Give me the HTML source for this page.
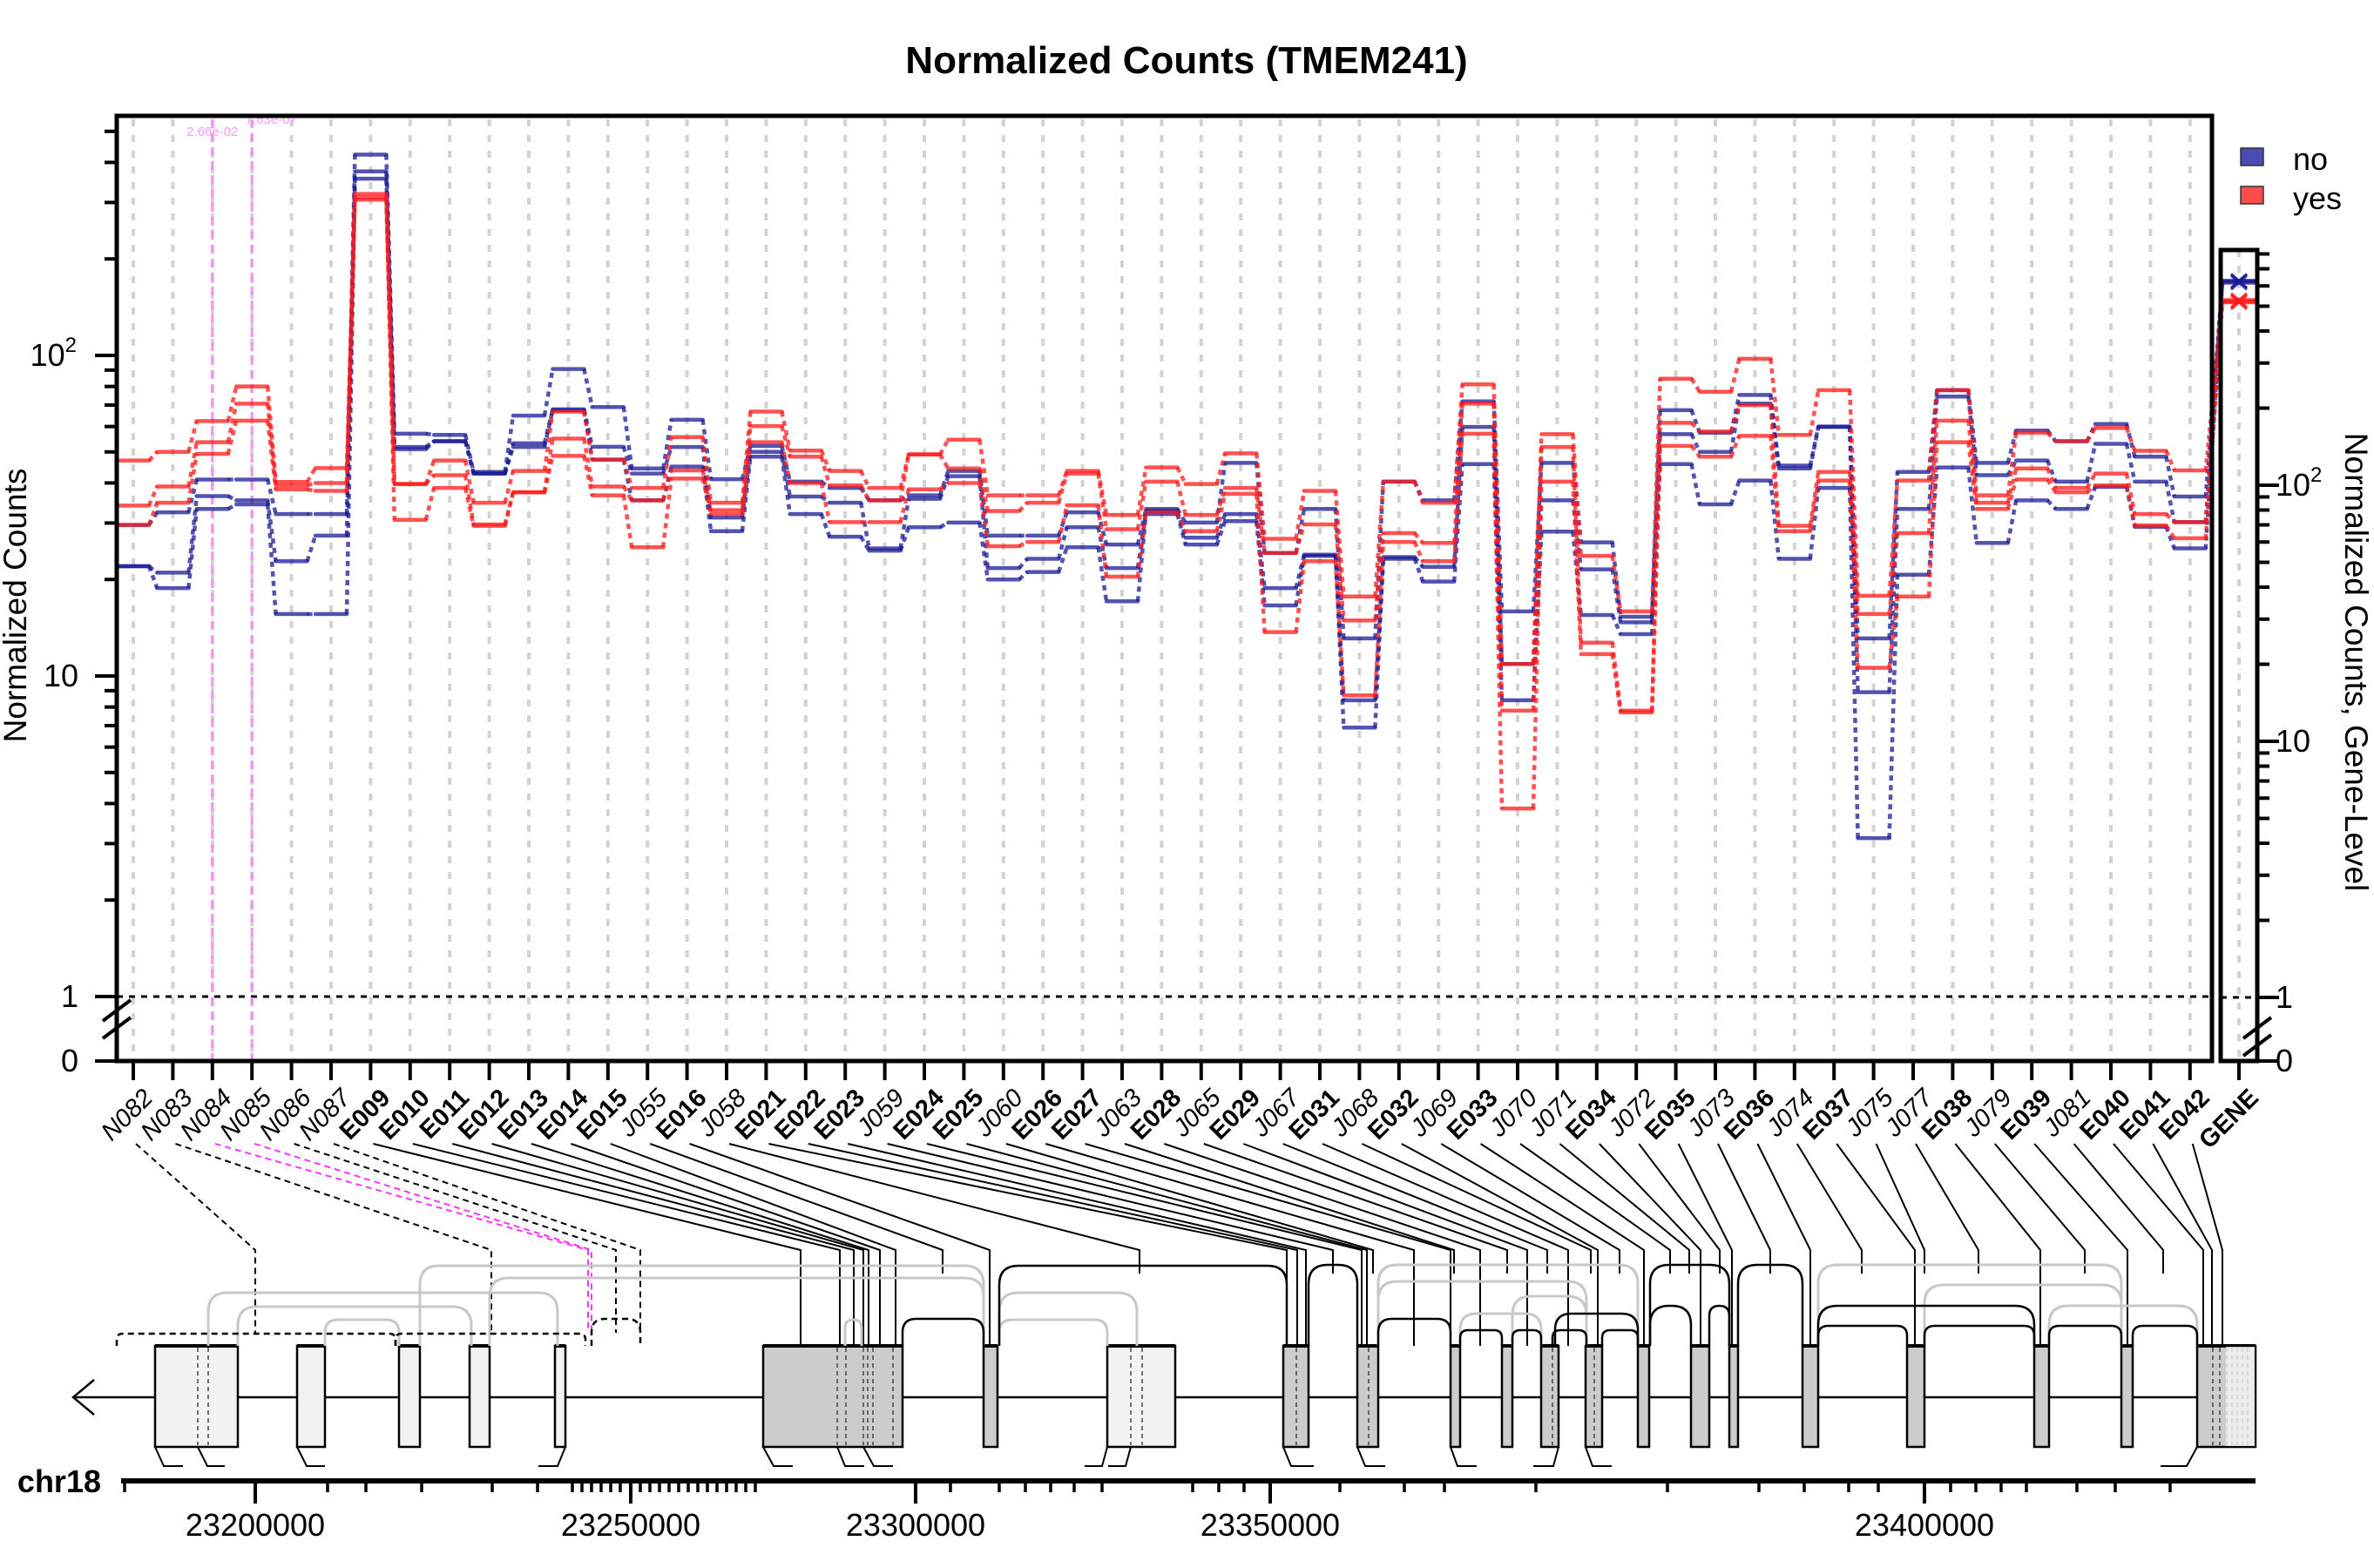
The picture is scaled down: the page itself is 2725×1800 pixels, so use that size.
<!DOCTYPE html>
<html><head><meta charset="utf-8"><style>
html,body{margin:0;padding:0;background:#fff;}
svg{display:block;font-family:"Liberation Sans",sans-serif;}
</style></head><body>
<svg id="chart" width="2725" height="1800" viewBox="0 0 2725 1800" xmlns="http://www.w3.org/2000/svg">
<rect width="2725" height="1800" fill="#fff"/>
<text x="1362" y="84" font-size="44" font-weight="bold" text-anchor="middle">Normalized Counts (TMEM241)</text>
<text transform="translate(30,695) rotate(-90)" font-size="37" text-anchor="middle">Normalized Counts</text>
<text transform="translate(2692,760) rotate(90)" font-size="37" text-anchor="middle">Normalized Counts, Gene-Level</text>
<g id="grid"></g><g id="pink"></g><g id="series"></g><g id="gene"></g><g id="axes"></g><g id="labels"></g><g id="model"></g>
<g>
<rect x="2572" y="170" width="26" height="20" fill="#4b4bb2" stroke="#333" stroke-width="1.5"/>
<text x="2632" y="195" font-size="36">no</text>
<rect x="2572" y="214" width="26" height="20" fill="#ff4d4d" stroke="#333" stroke-width="1.5"/>
<text x="2632" y="240" font-size="36">yes</text>
</g>
</svg>
<script>
const categories=["N082","N083","N084","N085","N086","N087","E009","E010","E011","E012","E013","E014","E015","J055","E016","J058","E021","E022","E023","J059","E024","E025","J060","E026","E027","J063","E028","J065","E029","J067","E031","J068","E032","J069","E033","J070","J071","E034","J072","E035","J073","E036","J074","E037","J075","J077","E038","J079","E039","J081","E040","E041","E042"];
const noSample1=[29.6,32.4,41,41,32,32,423,57,56.5,43.3,64.9,90.7,69,44.4,63,41.1,52.2,40.4,38.6,35.3,36.6,43.6,27.4,27.4,32.4,25.7,33.2,30.1,46.2,24.2,33.2,13.1,40.4,35.3,71.9,15.9,46.2,26.1,15.3,67.5,57.4,75.3,45.3,60,13.1,43.3,77.9,46.2,58.3,54,61.1,48.3,36.3];
const noSample2=[22,21,36.4,35.3,22.8,27.4,375,51.8,54,42.8,53.2,67.9,51.9,42.8,51.8,31.2,50,36.3,34.7,25,35.7,42,21.7,23.2,29.1,21.7,32.7,27,32,18.8,23.9,8.4,23.5,21.9,59.8,10.9,35.3,21.5,14.7,56.8,50,70.7,44.4,59.8,8.9,33.2,74.4,42.3,47,40.4,53,40.4,30.2];
const noSample3=[22,18.8,33.2,34.3,15.6,15.6,356,51,54,42.8,51.8,67.5,47.3,35.3,45,28.3,48.3,32,27.2,24.6,29.1,30.1,20,21.1,25.2,17.1,32,25.7,30.4,16.6,23.7,6.9,23.2,19.7,45.8,8.4,28.2,15.5,13.5,45.8,34.3,40.7,23.2,38.6,3.12,20.7,44.7,26,35.3,33.2,38.9,29.2,25];
const yesSample1=[47,50,62.4,80,40.3,44.5,319,39.7,47,34.7,43.6,66.8,47.3,38.6,55.6,34.7,66.8,50.5,43.6,38.6,49.1,54.6,36.6,36.6,43.6,31.8,44.7,39.7,49.5,26.8,37.8,17.7,40.4,34.7,81.2,10.9,56.8,23.7,15.9,84.6,77,97.6,56.5,77.9,17.8,40.7,77.9,36.6,57.4,54,59.4,50.4,43.8];
const yesSample2=[34,39,53.6,70.7,39.3,40,311,39.7,42.3,29.7,37.4,55,39,35.3,43.8,32.9,60.2,48.3,39.3,35.3,49.1,44.4,32.7,34.7,42.8,28.7,40.4,31.8,38.6,24.2,29.7,14.9,27.9,26,70.7,7.8,51.8,12.7,7.8,61.6,57.9,70,29.4,43.3,15.6,27.9,62.6,34.7,44.4,38.6,42.8,32,30.2];
const yesSample3=[29.6,34.7,49.3,62.6,38.2,37.8,306,30.7,38.6,29.4,37.4,48.6,36.6,25.2,41.3,32,53.6,40,30.2,30.2,38.2,40,25.4,26.2,34.1,20.4,32.4,28.3,37,13.7,22.8,8.7,26.2,22.8,57,3.86,40.4,11.7,7.7,52.2,48.3,56.1,28.3,40.7,10.6,17.7,53.6,33.2,41,37.4,39.3,29.5,26.9];
const geneNo=[625,628,618];
const geneYes=[528,522,518];
const pvalueLabels=["2.66e-02","7.63e-07"];
const pvalueCols=[2,3];
const leftMajorTicks=[1,10,100];
const leftMinorTicks=[2,3,4,5,6,7,8,9,20,30,40,50,60,70,80,90,200,300,400,500];
const rightMinorTicks=[2,3,4,5,6,7,8,9,20,30,40,50,60,70,80,90,200,300,400,500,600,700,800];

const NS="http://www.w3.org/2000/svg";
function el(tag,attrs,parent,txt){const e=document.createElementNS(NS,tag);for(const k in attrs)e.setAttribute(k,attrs[k]);if(txt!==undefined)e.textContent=txt;parent.appendChild(e);return e;}
const L=134,R=2539,T=133,B=1218;
const xCol=i=>153+45.4*i;
const yMain=v=>1144-368*Math.log10(v);
const yGene=v=>1145-294*Math.log10(v);
const GL=2549,GR=2591,GT=287;

const grid=document.getElementById('grid');
categories.forEach((c,i)=>{
  const ln=el('line',{x1:xCol(i),x2:xCol(i),y1:T+4,y2:B,stroke:'#d3d3d3','stroke-width':4,'stroke-dasharray':'8 10'},grid);
  
  
});
const gl=el('line',{x1:2570,x2:2570,y1:GT,y2:B,stroke:'#d3d3d3','stroke-width':4,'stroke-dasharray':'8 10'},grid);


const one=el('line',{x1:L,x2:R,y1:yMain(1),y2:yMain(1),stroke:'#000','stroke-width':3,'stroke-dasharray':'7 7'},grid);


const oneG=el('line',{x1:GL,x2:GR,y1:yGene(1),y2:yGene(1),stroke:'#000','stroke-width':3,'stroke-dasharray':'7 7'},grid);



const pink=document.getElementById('pink');
pvalueCols.forEach((ci,k)=>{
  const ln=el('line',{x1:xCol(ci),x2:xCol(ci),y1:T+4,y2:B,stroke:'#ff8cff','stroke-width':3,'stroke-dasharray':'10 6'},pink);
  
  
  const t=el('text',{x:xCol(ci)-(k===0?0:-22),y:k===0?156:142,'font-size':15,fill:'#ff99ff','text-anchor':'middle'},pink,pvalueLabels[k]);
  
  
});

const seriesG=document.getElementById('series');
const series=[[noSample1,geneNo[0],'rgba(25,25,150,0.75)','no-sample-1'],[noSample2,geneNo[1],'rgba(25,25,150,0.75)','no-sample-2'],[noSample3,geneNo[2],'rgba(25,25,150,0.75)','no-sample-3'],[yesSample1,geneYes[0],'rgba(255,25,25,0.75)','yes-sample-1'],[yesSample2,geneYes[1],'rgba(255,25,25,0.75)','yes-sample-2'],[yesSample3,geneYes[2],'rgba(255,25,25,0.75)','yes-sample-3']];
series.forEach(([vals,gv,col,name])=>{
  const g=el('g',{},seriesG);
  
  
  vals.forEach((v,i)=>{
    const y=yMain(v);
    const s=el('line',{x1:xCol(i)-18,x2:xCol(i)+18,y1:y,y2:y,stroke:col,'stroke-width':4.5,'stroke-linecap':'round'},g);
    
    
    if(i<vals.length-1){
      const c=el('line',{x1:xCol(i)+18,x2:xCol(i+1)-18,y1:y,y2:yMain(vals[i+1]),stroke:col,'stroke-width':4.5,'stroke-dasharray':'6 5'},g);
      
      
    }
  });
  const last=vals.length-1;
  const c2=el('line',{x1:xCol(last)+18,x2:GL+2,y1:yMain(vals[last]),y2:yGene(gv),stroke:col,'stroke-width':4.5,'stroke-dasharray':'5 4'},g);
  
  
  const gy=yGene(gv);
  const h=el('line',{x1:GL+2,x2:GR-2,y1:gy,y2:gy,stroke:col,'stroke-width':4.5},g);
  
  
  const m=el('path',{d:`M2561 ${gy-8}L2579 ${gy+8}M2561 ${gy+8}L2579 ${gy-8}`,stroke:col,'stroke-width':3,fill:'none'},g);
  
  
});

const ax=document.getElementById('axes');
function frame(x,y,w,h,name){const r=el('rect',{x:x,y:y,width:w,height:h,fill:'none',stroke:'#000','stroke-width':5},ax);}
frame(L,T,R-L,B-T,'main-plot-frame');
frame(GL,GT,GR-GL,B-GT,'gene-panel-frame');
function yTick(x,dir,y,len){el('line',{x1:x,x2:x+dir*len,y1:y,y2:y,stroke:'#000','stroke-width':4},ax);}
function supLabel(x,y,v,anchor,name){
  const t=el('text',{x:x,y:y+12,'font-size':36,'text-anchor':anchor},ax);
  
  
  if(v===100){t.textContent='10';el('tspan',{dy:-16,'font-size':24},t,'2');}else t.textContent=String(v);
}
leftMajorTicks.forEach(v=>{yTick(L,-1,yMain(v),25);supLabel(v===100?88:90,yMain(v),v,'end','y-tick-label-'+v);});
leftMinorTicks.forEach(v=>yTick(L,-1,yMain(v),14));
yTick(L,-1,B,25);supLabel(90,B,0,'end','y-tick-label-0');
el('path',{d:'M118 1172L150 1148M118 1192L150 1168',stroke:'#000','stroke-width':4},ax);
leftMajorTicks.forEach(v=>{yTick(GR,1,yGene(v),25);supLabel(2612,yGene(v),v,'start','right-tick-label-'+v);});
rightMinorTicks.forEach(v=>yTick(GR,1,yGene(v),14));
yTick(GR,1,B,25);supLabel(2612,B,0,'start','right-tick-label-0');
el('path',{d:'M2575 1192L2607 1168M2575 1212L2607 1188',stroke:'#000','stroke-width':4},ax);

const lab=document.getElementById('labels');
const knees=[293,564,675,679,707,735,919,964,980,991,997,1010,1028,1082,1136,1308,1477,1489,1499,1530,1563,1569,1576,1623,1665,1669,1699,1730,1753,1776,1800,1826,1834,1859,1887,1917,1939,1952,1974,1988,2032,2078,2137,2198,2209,2271,2342,2393,2442,2483,2529,2539,2551];
categories.concat(['GENE']).forEach((c,i)=>{
  const x=i<categories.length?xCol(i):2570;
  el('line',{x1:x,x2:x,y1:B,y2:B+22,stroke:'#000','stroke-width':4},ax);
  const bold=(c[0]==='E'||c==='GENE');
  const t=el('text',{transform:`translate(${x+24},${B+44}) rotate(-45)`,'font-size':29,'text-anchor':'end','font-weight':bold?'bold':'normal','font-style':bold?'normal':'italic'},lab,c);
  
  
  if(i<categories.length){
    const col=(i===2||i===3)?'#ff33ff':'#000';
    const dash=c[0]==='N'?'7 5':'none';
    const endY=c[0]==='J'?1462:(c[0]==='N'?1530:1545);
    const p=el('path',{d:`M${x+3} 1313L${knees[i]} 1435L${knees[i]} ${endY}`,fill:'none',stroke:col,'stroke-width':2,'stroke-dasharray':dash},lab);
    
    
  }
});

const model=document.getElementById('model');
const exons=[[178,273,'#f2f2f2'],[341,373,'#f2f2f2'],[458,482,'#f2f2f2'],[539,562,'#f2f2f2'],[637,649,'#f2f2f2'],[876,1036,'#cccccc'],[1129,1145,'#cccccc'],[1271,1349,'#f2f2f2'],[1473,1502,'#cccccc'],[1558,1582,'#cccccc'],[1665,1676,'#cccccc'],[1724,1736,'#cccccc'],[1769,1789,'#cccccc'],[1820,1839,'#cccccc'],[1880,1893,'#cccccc'],[1941,1962,'#cccccc'],[1985,1995,'#cccccc'],[2069,2087,'#cccccc'],[2189,2209,'#cccccc'],[2335,2352,'#cccccc'],[2435,2448,'#cccccc'],[2522,2589,'#cccccc']];
const ml=el('line',{x1:84,x2:2522,y1:1604,y2:1604,stroke:'#000','stroke-width':2.5},model);


const arr=el('path',{d:'M108 1584L84 1604L108 1624',fill:'none',stroke:'#000','stroke-width':2.5},model);


exons.forEach((e,k)=>{
  const r=el('rect',{x:e[0],y:1545,width:e[1]-e[0],height:116,fill:e[2],stroke:'#000','stroke-width':2.5},model);
  
  
  el('line',{x1:e[0],x2:e[1],y1:1545,y2:1545,stroke:'#000','stroke-width':4},model);
});
const inner=[227,239,961,971,991,996,1002,1025,1298,1311,1488,1571,1782,1830,2540,2548,2556,2562,2568,2574,2580];
inner.forEach(x=>el('line',{x1:x,x2:x,y1:1547,y2:1659,stroke:'#444','stroke-width':1.5,'stroke-dasharray':'5 4'},model));
el('rect',{x:2555,y:1546,width:33,height:114,fill:'#f4f4f4',opacity:0.8},model);
const tails=[[178,1661,188,210],[227,1661,238,258],[341,1661,352,373],[649,1661,640,618],[876,1661,888,910],[961,1661,970,992],[991,1661,1003,1025],[1271,1661,1265,1245],[1298,1661,1292,1272],[1473,1661,1482,1508],[1558,1661,1567,1590],[1665,1661,1673,1695],[1789,1661,1783,1760],[1820,1661,1828,1850],[2522,1661,2510,2480]];
tails.forEach(t=>el('path',{d:`M${t[0]} ${t[1]}L${t[2]} ${t[1]+22}L${t[3]} ${t[1]+22}`,fill:'none',stroke:'#000','stroke-width':2},model));
function arc(x1,x2,top,color,dash,name){
  const r=Math.min(22,(x2-x1)/2,(1545-top)/2);
  const p=el('path',{d:`M${x1} 1545L${x1} ${top+r}Q${x1} ${top} ${x1+r} ${top}L${x2-r} ${top}Q${x2} ${top} ${x2} ${top+r}L${x2} 1545`,fill:'none',stroke:color,'stroke-width':color==='#000'?2.5:3,'stroke-dasharray':dash},model);
  
  
}
const grayArcs=[[239,640,1484],[273,541,1500],[373,458,1515],[482,1129,1453],[562,1129,1467],[970,989,1515],[1147,1305,1484],[1147,1271,1515],[1582,1880,1452],[1582,1821,1471],[1676,1769,1508],[1736,1821,1488],[2087,2435,1452],[2209,2435,1475],[2352,2522,1499]];
grayArcs.forEach((a,k)=>arc(a[0],a[1],a[2],'#c8c8c8','none','unused-junction-'+(k+1)));
const blackArcs=[[1036,1129,1514],[1147,1477,1453],[1502,1558,1452],[1582,1665,1514],[1676,1724,1527],[1736,1769,1527],[1782,1821,1527],[1785,1880,1508],[1839,1880,1527],[1894,1985,1452],[1894,1941,1499],[1962,1985,1499],[1995,2069,1452],[2087,2189,1522],[2087,2335,1499],[2209,2335,1522],[2352,2435,1522],[2448,2522,1522]];
blackArcs.forEach((a,k)=>arc(a[0],a[1],a[2],'#000','none','junction-'+(k+1)));
[[134,454,1531],[454,672,1531],[679,735,1514]].forEach((a,k)=>arc(a[0],a[1],a[2],'#000','7 5','novel-junction-'+(k+1)));

const gx=el('line',{x1:139,x2:2589,y1:1700,y2:1700,stroke:'#000','stroke-width':6},model);


const genomicLabels=["23200000","23250000","23300000","23350000","23400000"];
const majorX=[293,724,1051,1458,2209];
genomicLabels.forEach((s,k)=>{
  el('line',{x1:majorX[k],x2:majorX[k],y1:1700,y2:1726,stroke:'#000','stroke-width':4},model);
  const t=el('text',{x:majorX[k],y:1763,'font-size':36,'text-anchor':'middle'},model,s);
  
  
});
const minorX=[143,376,420,484,565,617,657,668,679,690,701,712,735,746,757,768,779,790,801,812,823,834,845,856,867,1091,1147,1177,1206,1233,1265,1369,1399,1428,1538,1612,1658,1763,1914,2019,2071,2122,2156,2239,2268,2297,2326,2384,2428,2491];
minorX.forEach(x=>el('line',{x1:x,x2:x,y1:1700,y2:1713,stroke:'#000','stroke-width':3.5},model));
const chr=el('text',{x:116,y:1713,'font-size':36,'font-weight':'bold','text-anchor':'end'},model,'chr18');


</script>
</body></html>
